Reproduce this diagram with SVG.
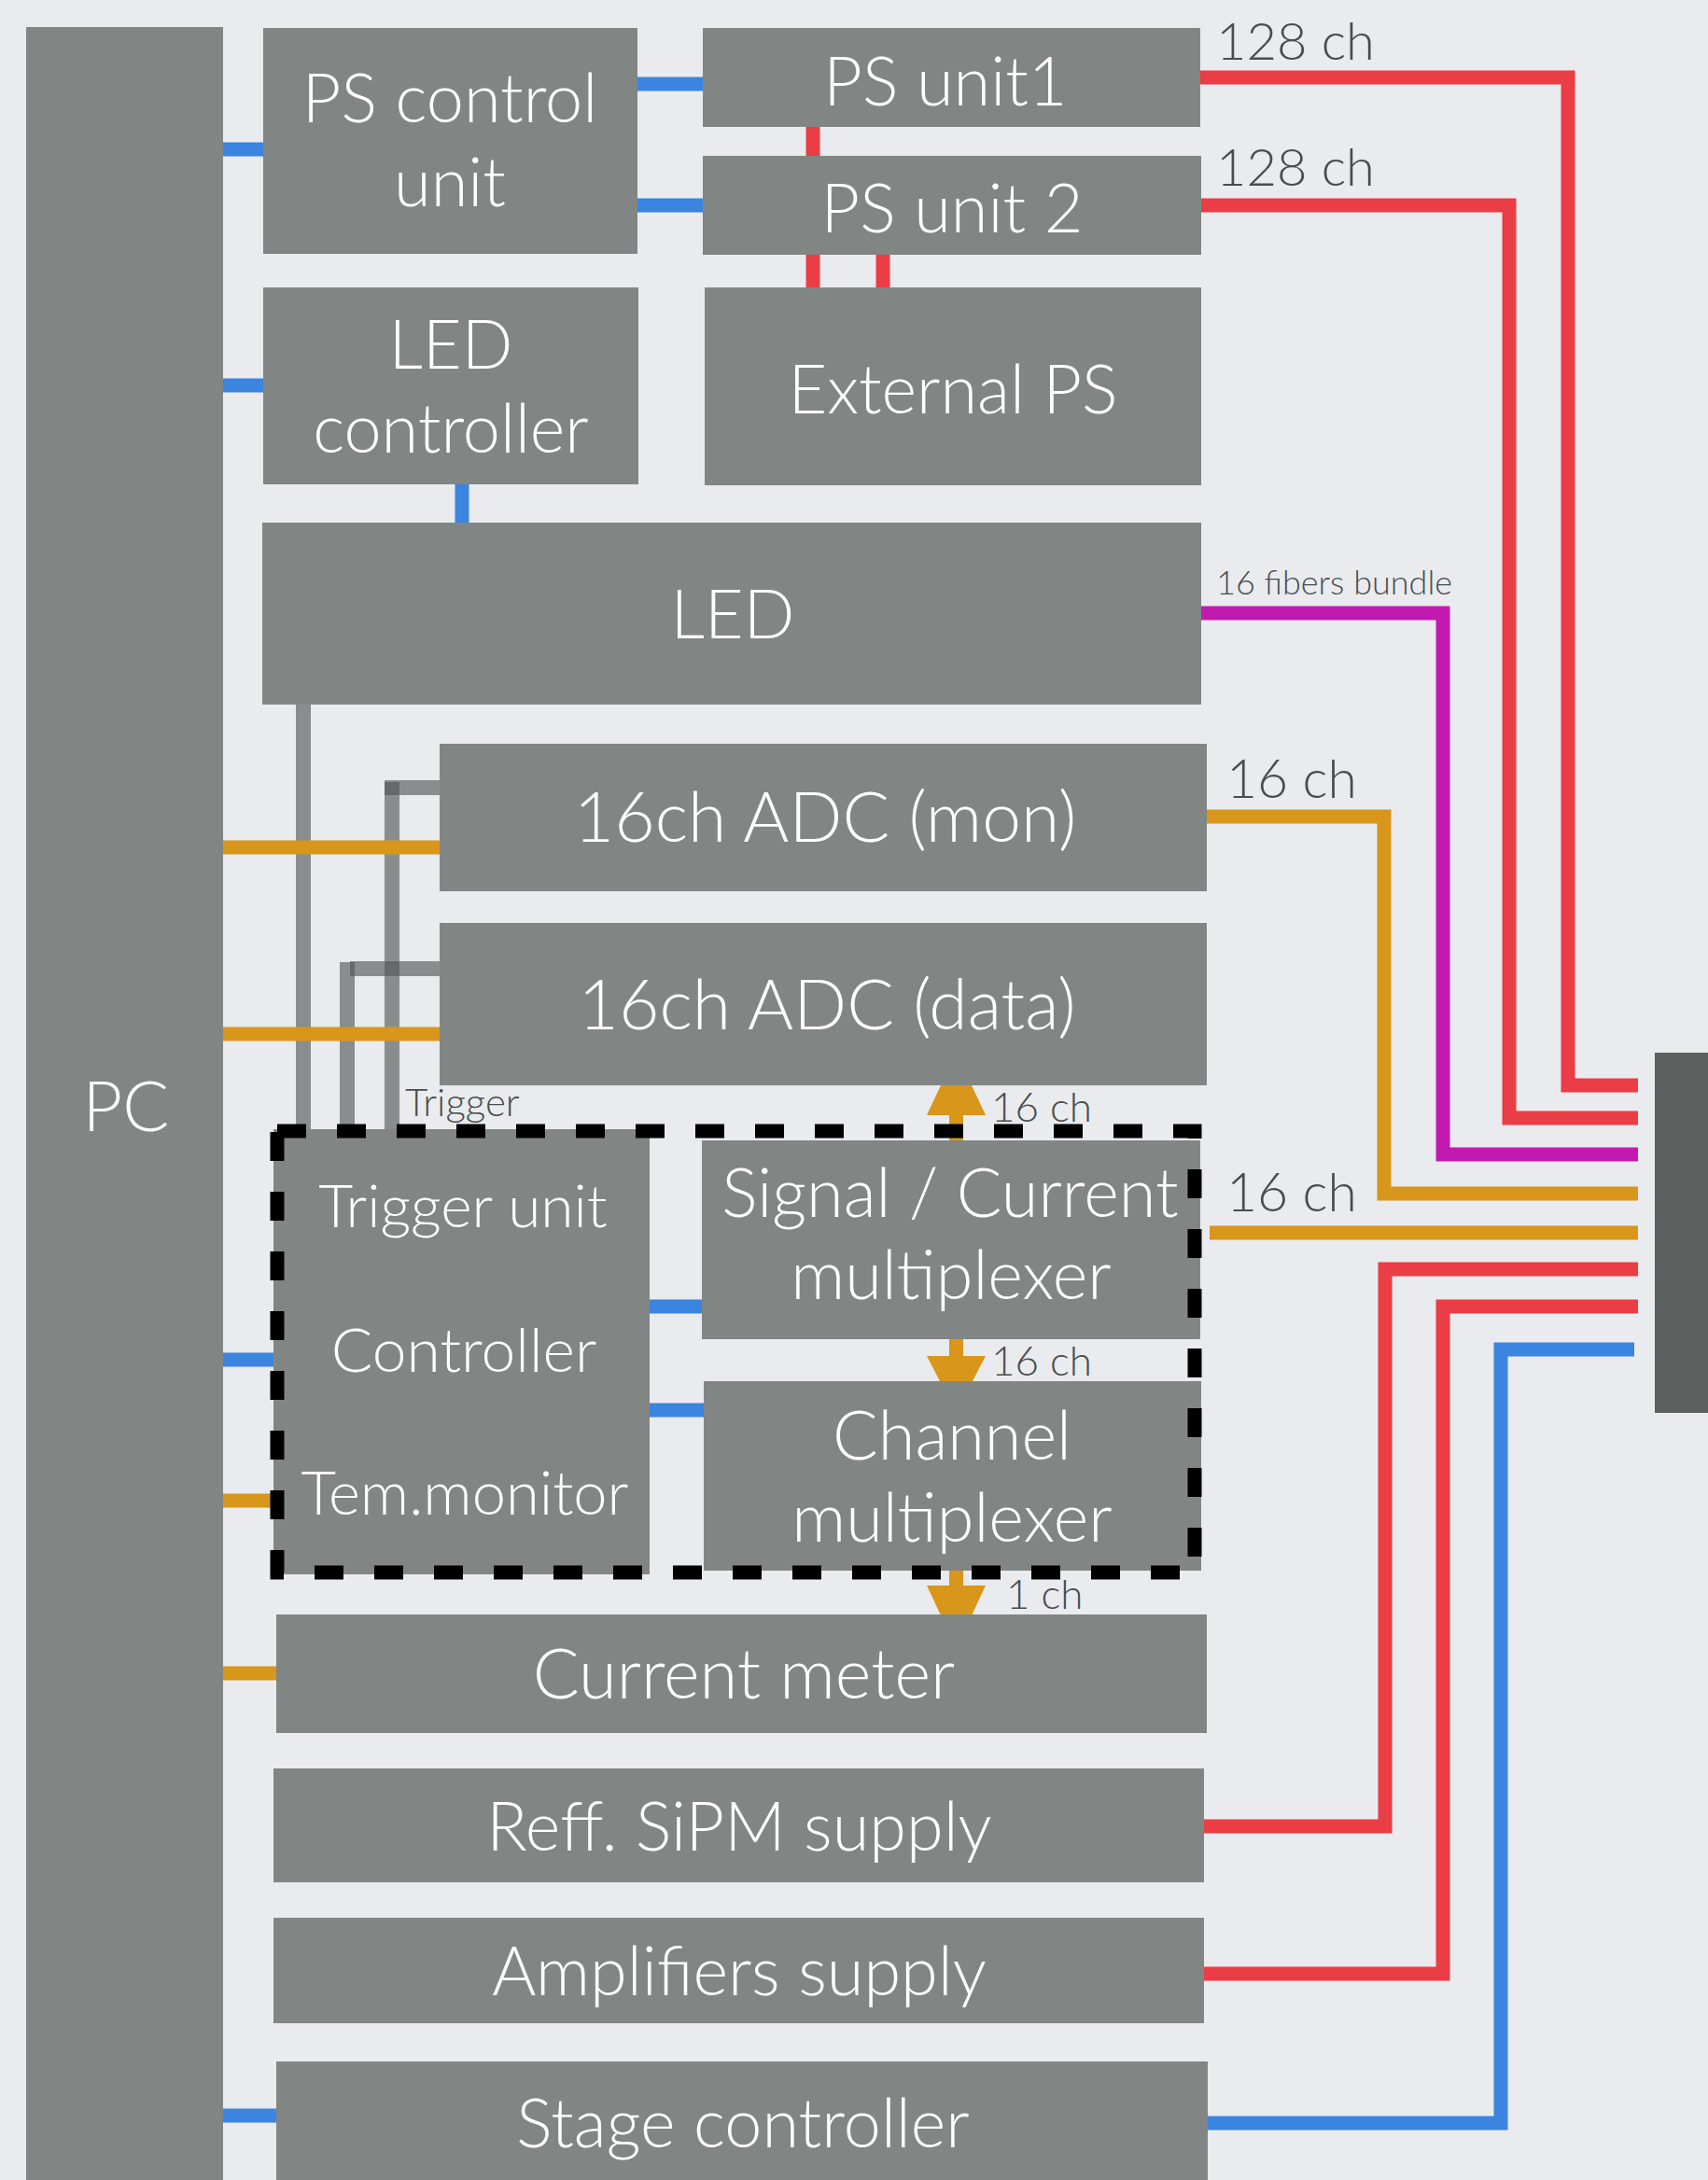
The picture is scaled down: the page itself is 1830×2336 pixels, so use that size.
<svg xmlns="http://www.w3.org/2000/svg" width="1830" height="2336" viewBox="0 0 1830 2336">
<style>
.box{fill:#818684}
.lbl{font-family:Lato,"Liberation Sans",sans-serif;font-weight:300;fill:#ffffff;text-anchor:middle;font-size:72px}
.note{font-family:Lato,"Liberation Sans",sans-serif;font-weight:300;fill:#4a4d4e}
.c{fill:none;stroke-width:15;stroke-linecap:butt;stroke-linejoin:miter}
.blue{stroke:#3b84e0}
.red{stroke:#ea3d45}
.org{stroke:#d8961a}
.mag{stroke:#c21ab1}
.gry{stroke:#4f5453;stroke-opacity:0.62;stroke-width:16}
</style>
<rect width="1830" height="2336" fill="#e9ebee"/>

<g id="connectors">
  <!-- gray trigger lines -->
  <path class="c gry" d="M325,755 V1212"/>
  <path class="c gry" d="M420,838 V1212"/>
  <path class="c gry" d="M412,844 H471"/>
  <path class="c gry" d="M372,1031 V1212"/>
  <path class="c gry" d="M375,1038 H471"/>
  <!-- blue -->
  <path class="c blue" d="M239,160 H282"/>
  <path class="c blue" d="M683,90 H753"/>
  <path class="c blue" d="M683,220 H753"/>
  <path class="c blue" d="M239,413 H282"/>
  <path class="c blue" d="M495,519 V560"/>
  <path class="c blue" d="M239,1457 H293"/>
  <path class="c blue" d="M696,1400 H752"/>
  <path class="c blue" d="M696,1511 H754"/>
  <path class="c blue" d="M239,2267 H296"/>
  <path class="c blue" d="M1294,2275 H1608 V1446 H1751"/>
  <!-- red -->
  <path class="c red" d="M871,135 V167"/>
  <path class="c red" d="M871,273 V308"/>
  <path class="c red" d="M946,273 V308"/>
  <path class="c red" d="M1286,83 H1680 V1163 H1755"/>
  <path class="c red" d="M1281,220 H1617 V1198 H1755"/>
  <path class="c red" d="M1290,1957 H1484 V1360 H1755"/>
  <path class="c red" d="M1290,2115 H1546 V1400 H1755"/>
  <!-- magenta -->
  <path class="c mag" d="M1287,657 H1546 V1237 H1755"/>
  <!-- orange -->
  <path class="c org" d="M239,908 H471"/>
  <path class="c org" d="M239,1108 H471"/>
  <path class="c org" d="M239,1608 H293"/>
  <path class="c org" d="M239,1793 H296"/>
  <path class="c org" d="M1293,875 H1483 V1279 H1755"/>
  <path class="c org" d="M1296,1321 H1755"/>
  <!-- orange arrows -->
  <rect x="1017" y="1190" width="15" height="32" fill="#d8961a"/>
  <polygon points="1008,1163 1041,1163 1056,1195 993,1195" fill="#d8961a"/>
  <rect x="1017" y="1430" width="15" height="25" fill="#d8961a"/>
  <polygon points="993,1453 1056,1453 1041,1482 1008,1482" fill="#d8961a"/>
  <rect x="1017" y="1680" width="15" height="22" fill="#d8961a"/>
  <polygon points="993,1699 1056,1699 1041,1731 1008,1731" fill="#d8961a"/>
</g>

<g id="pc">
  <rect class="box" x="28" y="29" width="211" height="2320"/>
  <text class="lbl" x="135" y="1212" style="font-size:74px">PC</text>
</g>
<g id="ps-control-unit">
  <rect class="box" x="282" y="30" width="401" height="242"/>
  <text class="lbl" x="482" y="131">PS control</text>
  <text class="lbl" x="482" y="221">unit</text>
</g>
<g id="ps-unit-1">
  <rect class="box" x="753" y="30" width="533" height="106"/>
  <text class="lbl" x="1013" y="113">PS unit1</text>
</g>
<g id="ps-unit-2">
  <rect class="box" x="753" y="167" width="534" height="106"/>
  <text class="lbl" x="1020" y="249">PS unit 2</text>
</g>
<g id="led-controller">
  <rect class="box" x="282" y="308" width="402" height="211"/>
  <text class="lbl" x="483" y="395">LED</text>
  <text class="lbl" x="483" y="485">controller</text>
</g>
<g id="external-ps">
  <rect class="box" x="755" y="308" width="532" height="212"/>
  <text class="lbl" x="1021" y="443">External PS</text>
</g>
<g id="led">
  <rect class="box" x="281" y="560" width="1006" height="195"/>
  <text class="lbl" x="785" y="684">LED</text>
</g>
<g id="adc-mon">
  <rect class="box" x="471" y="797" width="822" height="158"/>
  <text class="lbl" x="884" y="902" style="font-size:75px">16ch ADC (mon)</text>
</g>
<g id="adc-data">
  <rect class="box" x="471" y="989" width="822" height="174"/>
  <text class="lbl" x="886" y="1103" style="font-size:75px">16ch ADC (data)</text>
</g>
<text class="note" x="434" y="1196" font-size="42" fill="#555a5a">Trigger</text>
<g id="trigger-unit">
  <rect class="box" x="293" y="1210" width="403" height="477"/>
  <text class="lbl" x="496" y="1315" style="font-size:64px">Trigger unit</text>
  <text class="lbl" x="497" y="1470" style="font-size:66px">Controller</text>
  <text class="lbl" x="498" y="1623" style="font-size:65px">Tem.monitor</text>
</g>
<g id="signal-current-mux">
  <rect class="box" x="752" y="1222" width="534" height="213"/>
  <text class="lbl" x="1018" y="1304">Signal / Current</text>
  <text class="lbl" x="1019" y="1392">multiplexer</text>
</g>
<g id="channel-mux">
  <rect class="box" x="754" y="1480" width="533" height="203"/>
  <text class="lbl" x="1020" y="1564">Channel</text>
  <text class="lbl" x="1020" y="1652">multiplexer</text>
</g>
<g id="group-border">
  <rect x="297" y="1212" width="983" height="473" fill="none" stroke="#000000" stroke-width="15" stroke-dasharray="31 33"/>
</g>
<g id="current-meter">
  <rect class="box" x="296" y="1730" width="997" height="127"/>
  <text class="lbl" x="797" y="1820" style="font-size:74px">Current meter</text>
</g>
<g id="reff-sipm-supply">
  <rect class="box" x="293" y="1895" width="997" height="122"/>
  <text class="lbl" x="792" y="1983">Reff. SiPM supply</text>
</g>
<g id="amplifiers-supply">
  <rect class="box" x="293" y="2055" width="997" height="113"/>
  <text class="lbl" x="792" y="2138">Amplifiers supply</text>
</g>
<g id="stage-controller">
  <rect class="box" x="296" y="2209" width="998" height="140"/>
  <text class="lbl" x="796" y="2301">Stage controller</text>
</g>
<g id="connector-block">
  <rect x="1773" y="1128" width="60" height="386" fill="#5c605f"/>
</g>

<g id="labels">
  <text class="note" x="1303" y="64" font-size="56">128 ch</text>
  <text class="note" x="1303" y="199" font-size="56">128 ch</text>
  <text class="note" x="1303" y="637" font-size="36">16 fibers bundle</text>
  <text class="note" x="1314" y="855" font-size="57">16 ch</text>
  <text class="note" x="1314" y="1298" font-size="57">16 ch</text>
  <text class="note" x="1062" y="1202" font-size="44">16 ch</text>
  <text class="note" x="1062" y="1474" font-size="44">16 ch</text>
  <text class="note" x="1078" y="1724" font-size="44">1 ch</text>
</g>
</svg>
